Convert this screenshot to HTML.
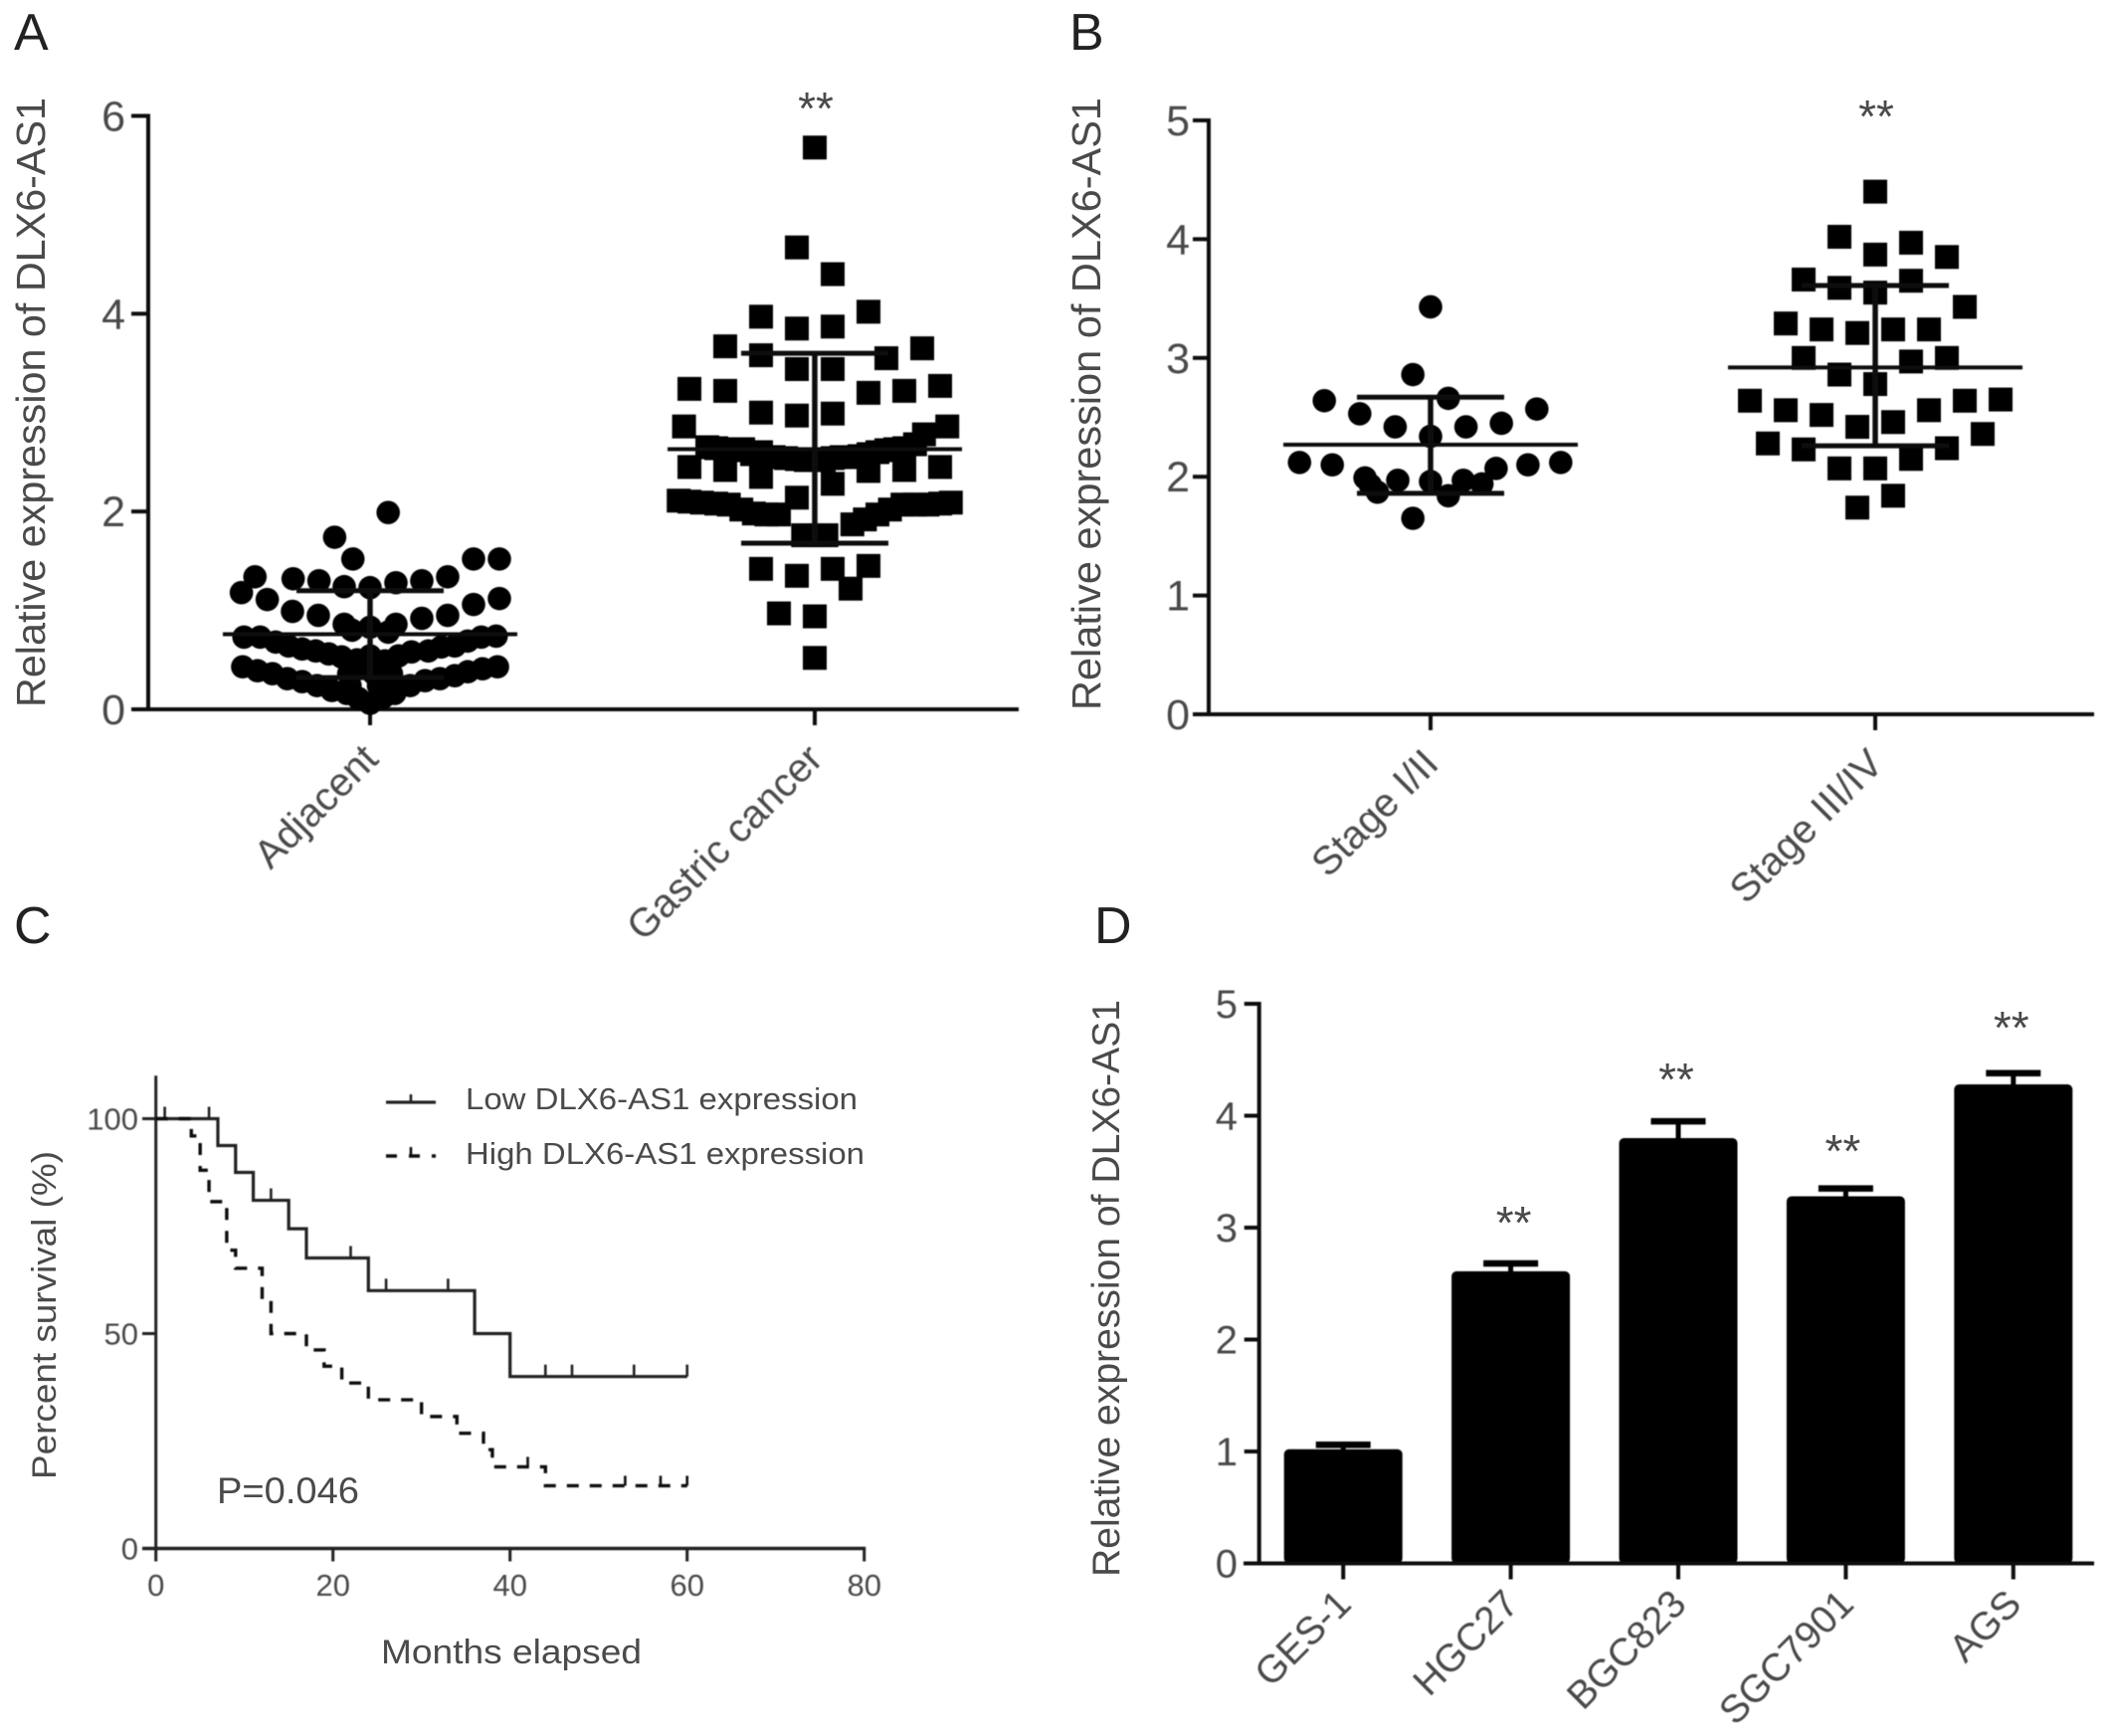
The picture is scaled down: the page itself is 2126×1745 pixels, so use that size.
<!DOCTYPE html>
<html lang="en">
<head>
<meta charset="utf-8">
<title>DLX6-AS1 expression figure</title>
<style>
html,body{margin:0;padding:0;background:#fff;width:2126px;height:1745px;overflow:hidden}
svg{display:block;position:absolute;left:0;top:0}
text{font-family:"Liberation Sans",Arial,sans-serif;fill:#4a4a4a}
.panel-letter{font-size:52px;fill:#222}
.axis-title{font-size:41px}
</style>
</head>
<body>
<svg id="figure" xmlns="http://www.w3.org/2000/svg" width="2126" height="1745" viewBox="0 0 2126 1745">
  <rect x="0" y="0" width="2126" height="1745" fill="#fff"/>
  <text class="panel-letter" x="14" y="50">A</text>
  <text class="panel-letter" x="1075" y="50">B</text>
  <text class="panel-letter" x="14" y="948">C</text>
  <text class="panel-letter" x="1100" y="948">D</text>

  <g id="panel-a" filter="url(#soft)"></g>
  <g id="panel-b" filter="url(#soft)"></g>
  <g id="panel-c" filter="url(#soft)"></g>
  <g id="panel-d" filter="url(#soft)"></g>

  <text class="axis-title" transform="translate(45,711) rotate(-90)" textLength="613" lengthAdjust="spacingAndGlyphs">Relative expression of DLX6-AS1</text>
  <text class="axis-title" transform="translate(1106,714) rotate(-90)" textLength="616" lengthAdjust="spacingAndGlyphs">Relative expression of DLX6-AS1</text>
  <text class="axis-title" style="font-size:39px" transform="translate(1125,1585) rotate(-90)" textLength="580" lengthAdjust="spacingAndGlyphs">Relative expression of DLX6-AS1</text>
  <text style="font-size:34px" transform="translate(56,1487) rotate(-90)" textLength="330" lengthAdjust="spacingAndGlyphs">Percent survival (%)</text>
  <text style="font-size:34px" x="383" y="1672" textLength="262" lengthAdjust="spacingAndGlyphs">Months elapsed</text>
  <text style="font-size:37px" x="218" y="1511" textLength="143" lengthAdjust="spacingAndGlyphs">P=0.046</text>
  <text style="font-size:31px" x="468" y="1115" textLength="394" lengthAdjust="spacingAndGlyphs">Low DLX6-AS1 expression</text>
  <text style="font-size:31px" x="468" y="1170" textLength="401" lengthAdjust="spacingAndGlyphs">High DLX6-AS1 expression</text>

  <defs>
    <filter id="soft" x="-5%" y="-5%" width="110%" height="110%"><feGaussianBlur stdDeviation="0.55"/></filter>
  </defs>
</svg>
<script>
// ---------- Panel A data ----------
const panelACategories = ['Adjacent', 'Gastric cancer'];
const panelATicks = [0, 2, 4, 6];
const adjacentSlots = [1.4,-2.74,-1.33,8,10,-8.9,-9.95,-7.95,-5.95,-3.95,-2,0,2,4,6,10,8,-6,-4,6,4,-2,2,0,1.4,-1.4,
  -9.75,-8.5,-7.3,-6.3,-5.25,-4.2,-3.2,-2.2,-1.15,9.75,8.6,7.55,6.55,5.5,4.5,3.2,2.2,1.15,
  -9.85,-8.7,-7.55,-6.4,-5.25,-4.1,-2.95,-1.8,-0.9,9.85,8.7,7.55,6.55,5.4,4.25,3.1,1.9,1,
  0,-0.65,0.65,-1.65,1.65,-1.55,0.65,0,0,0.3,-1,1];
const adjacentValues = [1.99,1.74,1.52,1.52,1.52,1.34,1.18,1.11,1.32,1.30,1.24,1.23,1.28,1.30,1.34,1.12,1.06,0.99,0.95,0.95,0.92,0.86,0.86,0.83,0.78,0.80,
  0.73,0.73,0.68,0.64,0.61,0.59,0.56,0.53,0.46,0.74,0.73,0.69,0.64,0.63,0.59,0.58,0.54,0.49,
  0.43,0.39,0.36,0.31,0.28,0.24,0.19,0.16,0.11,0.43,0.41,0.38,0.34,0.31,0.29,0.24,0.16,0.12,
  0.06,0.43,0.39,0.36,0.36,0.24,0.24,0.54,0.46,0.36,0.5,0.48];
const gastricSlots = [0,-1,1,3,-3,-1,1,-5,-3,-1,1,4,6,-7,-5,3,5,7,-3,-1,1,-7.3,7.4,6.1,
  -6,-5,-4,-3,-2.3,-1,0,1,2,3,4,5,-7,-5,-3,3,5,7,1,-1,
  -7.6,-6.3,-4.8,-3.4,-2,7.6,6.3,4.9,3.5,2.1,-0.65,0.65,0,-3,-1,1,3,2,-2,0,0,
  -5.5,-4.5,-3.5,-1.6,-0.5,0.5,1.5,2.5,3.5,4.5,5.6,-7,-5.5,-4.1,-2.7,7,5.6,4.2,2.8];
const gastricValues = [5.68,4.67,4.4,4.02,3.97,3.85,3.87,3.67,3.58,3.44,3.44,3.55,3.65,3.24,3.22,3.2,3.22,3.27,3.0,2.97,2.99,2.86,2.86,2.78,
  2.65,2.63,2.63,2.6,2.55,2.53,2.52,2.54,2.55,2.58,2.62,2.64,2.45,2.42,2.35,2.41,2.42,2.45,2.28,2.14,
  2.11,2.09,2.07,1.98,1.97,2.09,2.07,2.07,1.97,1.87,1.76,1.76,1.76,1.42,1.35,1.42,1.45,1.22,0.97,0.94,0.52,
  2.64,2.62,2.58,2.54,2.52,2.52,2.55,2.56,2.6,2.63,2.68,2.1,2.08,2.02,1.97,2.08,2.07,2.02,1.92];
const panelAMeans = [0.76, 2.63];
const panelAUpper = [1.2, 3.6];
const panelALower = [0.32, 1.68];

// ---------- Panel B data ----------
const panelBCategories = ['Stage I/II', 'Stage III/IV'];
const panelBTicks = [0, 1, 2, 3, 4, 5];
const earlySlots = [0,-1,-6,1,6,-4,4,-2,2,0,-7.4,-5.55,7.35,5.5,3.7,-3.7,-1.85,0,1.85,2.9,-3.4,-3,1,-1];
const earlyValues = [3.43,2.86,2.64,2.66,2.57,2.53,2.45,2.42,2.42,2.34,2.12,2.1,2.12,2.1,2.07,1.99,1.97,1.96,1.97,1.94,1.93,1.87,1.84,1.65];
const lateSlots = [0,-2,2,0,4,-4,-2,0,2,5,-5,-3,-1,1,3,-4,2,4,-2,0,-7,-5,-3,-1,1,3,5,7,-6,-4,4,6,-2,0,2,1,-1];
const lateValues = [4.40,4.02,3.97,3.87,3.85,3.66,3.59,3.55,3.65,3.43,3.29,3.24,3.21,3.24,3.24,3.0,2.97,3.0,2.86,2.78,2.64,2.56,2.52,2.42,2.46,2.56,2.64,2.65,2.28,2.23,2.24,2.36,2.07,2.07,2.15,1.84,1.74];
const panelBMeans = [2.27, 2.92];
const panelBUpper = [2.67, 3.61];
const panelBLower = [1.86, 2.26];

// ---------- Panel C data ----------
const survivalXTicks = [0, 20, 40, 60, 80];
const survivalYTicks = [0, 50, 100];
const lowMonths = [0,7,9,11,15,17,24,36,40,60];
const lowSurvival = [100,93.75,87.5,81,74.4,67.6,60,50,40,40];
const lowCensored = [1,6,13,22,26,33,44,47,54,60];
const highMonths = [0,4,5,6,8,9,12,13,17,19,21,24,30,34,37,38,44,60];
const highSurvival = [100,96,88,80.7,69.4,65.2,57.8,50,46.2,42.4,38.5,34.6,30.7,26.8,23,19,14.6,14.6];
const highCensored = [42,53,57,60];

// ---------- Panel D data ----------
const cellLines = ['GES-1','HGC27','BGC823','SGC7901','AGS'];
const cellMeans = [1.02,2.61,3.8,3.28,4.28];
const cellUpper = [1.06,2.68,3.95,3.35,4.38];
const cellStars = ['','**','**','**','**'];
const cellStarLevels = [0,3.09,4.37,3.73,4.83];
const panelDTicks = [0,1,2,3,4,5];

// ---------- helpers ----------
const SVGNS = 'http://www.w3.org/2000/svg';
function linear(d0, d1, r0, r1) { return v => r0 + (v - d0) * (r1 - r0) / (d1 - d0); }
function seg(parent, x1, y1, x2, y2, w, name, color) {
  const el = document.createElementNS(SVGNS, 'line');
  el.setAttribute('x1', x1); el.setAttribute('y1', y1);
  el.setAttribute('x2', x2); el.setAttribute('y2', y2);
  el.setAttribute('stroke', color || '#111');
  el.setAttribute('stroke-width', w);
  
  
  parent.appendChild(el);
  return el;
}
function label(parent, str, x, y, size, anchor, name, rotate) {
  const el = document.createElementNS(SVGNS, 'text');
  el.textContent = str;
  el.setAttribute('font-size', size);
  el.setAttribute('text-anchor', anchor);
  if (rotate) el.setAttribute('transform', 'translate(' + x + ',' + y + ') rotate(' + rotate + ')');
  else { el.setAttribute('x', x); el.setAttribute('y', y); }
  
  
  parent.appendChild(el);
  return el;
}
function circlePoint(parent, cx, cy, r, name) {
  const el = document.createElementNS(SVGNS, 'circle');
  el.setAttribute('cx', cx); el.setAttribute('cy', cy); el.setAttribute('r', r);
  el.setAttribute('fill', '#000');
  
  
  parent.appendChild(el);
}
function squarePoint(parent, cx, cy, s, name) {
  const el = document.createElementNS(SVGNS, 'rect');
  el.setAttribute('x', cx - s / 2); el.setAttribute('y', cy - s / 2);
  el.setAttribute('width', s); el.setAttribute('height', s);
  el.setAttribute('fill', '#000');
  
  
  parent.appendChild(el);
}
function stars(str, x, cy) {
  const el = label(document.getElementById('figure'), str, x, cy + 21, 46, 'middle', 'significance-stars');
  return el;
}

function drawScatter(cfg) {
  const g = document.getElementById(cfg.id);
  const y = linear(0, cfg.ymax, cfg.y0, cfg.yTop);
  seg(g, cfg.axisX, cfg.yTop - 2, cfg.axisX, cfg.y0 + 2, 4, 'y-axis-line');
  seg(g, cfg.axisLeft, cfg.y0, cfg.axisRight, cfg.y0, 4, 'x-axis-line');
  cfg.ticks.forEach(t => {
    seg(g, cfg.axisLeft, y(t), cfg.axisX, y(t), 4, 'y-axis-tick');
    label(g, String(t), cfg.labelRight, y(t) + 15, 43, 'end', 'y-tick-label');
  });
  cfg.centers.forEach((c, i) => {
    seg(g, c, cfg.y0, c, cfg.y0 + 16, 4, 'x-axis-tick');
    label(g, cfg.cats[i], c + cfg.catDx, cfg.y0 + 52, 40, 'end', 'x-category-label', -45);
  });
  cfg.circleSlots.forEach((s, i) => {
    circlePoint(g, cfg.centers[0] + s * cfg.circleStep, y(cfg.circleValues[i]), 11.8, 'circle-point');
  });
  cfg.squareSlots.forEach((s, i) => {
    squarePoint(g, cfg.centers[1] + s * 18, y(cfg.squareValues[i]), 24, 'square-point');
  });
  cfg.centers.forEach((c, i) => {
    seg(g, c - 148, y(cfg.means[i]), c + 148, y(cfg.means[i]), 4, 'mean-line');
    seg(g, c - 74, y(cfg.upper[i]), c + 74, y(cfg.upper[i]), 5, 'sd-upper-cap');
    seg(g, c - 74, y(cfg.lower[i]), c + 74, y(cfg.lower[i]), 5, 'sd-lower-cap');
    seg(g, c, y(cfg.upper[i]), c, y(cfg.lower[i]), 5.5, 'sd-stem');
  });
}

drawScatter({
  id: 'panel-a', ymax: 6, y0: 713, yTop: 116.5, axisX: 149, axisLeft: 132, axisRight: 1024, labelRight: 126,
  ticks: panelATicks, centers: [372, 819], cats: panelACategories, catDx: 10,
  circleSlots: adjacentSlots, circleValues: adjacentValues, circleStep: 13,
  squareSlots: gastricSlots, squareValues: gastricValues,
  means: panelAMeans, upper: panelAUpper, lower: panelALower
});
drawScatter({
  id: 'panel-b', ymax: 5, y0: 718, yTop: 121, axisX: 1215, axisLeft: 1199, axisRight: 2105, labelRight: 1196,
  ticks: panelBTicks, centers: [1438, 1885], cats: panelBCategories, catDx: 10,
  circleSlots: earlySlots, circleValues: earlyValues, circleStep: 17.8,
  squareSlots: lateSlots, squareValues: lateValues,
  means: panelBMeans, upper: panelBUpper, lower: panelBLower
});
stars('**', 820, 104);
stars('**', 1886, 112);

// ---------- Panel C ----------
(function () {
  const g = document.getElementById('panel-c');
  const x = linear(0, 80, 156.7, 868.7);
  const y = linear(0, 100, 1556.5, 1124.5);
  seg(g, x(0), y(110), x(0), y(0) + 2, 3, 'y-axis-line', '#222');
  seg(g, 143, y(0), x(80) + 1.5, y(0), 3.5, 'x-axis-line', '#222');
  survivalYTicks.forEach(t => {
    seg(g, 143, y(t), x(0), y(t), 3, 'y-axis-tick', '#222');
    label(g, String(t), 139, y(t) + 11, 31, 'end', 'y-tick-label');
  });
  survivalXTicks.forEach(t => {
    seg(g, x(t), y(0), x(t), y(0) + 13, 3, 'x-axis-tick', '#222');
    label(g, String(t), x(t), 1604, 31, 'middle', 'x-tick-label');
  });
  function stepPath(months, surv) {
    let d = 'M' + x(months[0]) + ' ' + y(surv[0]);
    for (let i = 1; i < months.length; i++) {
      d += 'L' + x(months[i]) + ' ' + y(surv[i - 1]) + 'L' + x(months[i]) + ' ' + y(surv[i]);
    }
    return d;
  }
  function survivalAt(months, surv, m) {
    let val = surv[0];
    for (let i = 0; i < months.length; i++) if (months[i] <= m) val = surv[i];
    return val;
  }
  const low = document.createElementNS(SVGNS, 'path');
  low.setAttribute('d', stepPath(lowMonths, lowSurvival));
  low.setAttribute('fill', 'none');
  low.setAttribute('stroke', '#222');
  low.setAttribute('stroke-width', 3.2);
  
  
  g.appendChild(low);
  lowCensored.forEach(m => {
    const v = survivalAt(lowMonths, lowSurvival, m);
    seg(g, x(m), y(v), x(m), y(v) - 12, 2.6, 'low-censor-tick', '#222');
  });
  const high = document.createElementNS(SVGNS, 'path');
  high.setAttribute('d', stepPath(highMonths, highSurvival));
  high.setAttribute('fill', 'none');
  high.setAttribute('stroke', '#111');
  high.setAttribute('stroke-width', 3.4);
  high.setAttribute('stroke-dasharray', '12 11');
  
  
  g.appendChild(high);
  highCensored.forEach(m => {
    const v = survivalAt(highMonths, highSurvival, m);
    seg(g, x(m), y(v), x(m), y(v) - 10, 2.6, 'high-censor-tick', '#111');
  });
  // legend samples
  seg(g, 388, 1108, 438, 1108, 3.2, 'legend-low-line', '#222');
  seg(g, 413, 1108, 413, 1100, 2.6, 'legend-low-tick', '#222');
  const ld = seg(g, 388, 1162, 438, 1162, 3.4, 'legend-high-line', '#111');
  ld.setAttribute('stroke-dasharray', '11 12');
  seg(g, 413, 1162, 413, 1153, 2.6, 'legend-high-tick', '#111');
})();

// ---------- Panel D ----------
(function () {
  const g = document.getElementById('panel-d');
  const y = linear(0, 5, 1571.5, 1009);
  const x = linear(0, 4, 1350.2, 2023.8);
  const starShift = [0, 3, -2, -3, -2];
  const barW = 119;
  cellLines.forEach((name, i) => {
    const cx = x(i);
    seg(g, cx, y(cellUpper[i]), cx, y(cellMeans[i]) + 4, 5, 'error-stem', '#000');
    seg(g, cx - 27.5, y(cellUpper[i]), cx + 27.5, y(cellUpper[i]), 6.5, 'error-cap', '#000');
    const bar = document.createElementNS(SVGNS, 'rect');
    bar.setAttribute('x', cx - barW / 2);
    bar.setAttribute('y', y(cellMeans[i]));
    bar.setAttribute('width', barW);
    bar.setAttribute('height', y(0) - y(cellMeans[i]));
    bar.setAttribute('rx', 5);
    bar.setAttribute('fill', '#000');
    
    
    g.appendChild(bar);
    seg(g, cx, y(0), cx, y(0) + 16, 4, 'x-axis-tick');
    label(g, name, cx + 10, y(0) + 43, 39, 'end', 'x-category-label', -45);
    if (cellStars[i]) stars(cellStars[i], cx + starShift[i], y(cellStarLevels[i]));
  });
  seg(g, 1265.7, y(5) - 2, 1265.7, y(0) + 2, 4, 'y-axis-line');
  seg(g, 1250, y(0), 2105, y(0), 4, 'x-axis-line');
  panelDTicks.forEach(t => {
    seg(g, 1250.7, y(t), 1265.7, y(t), 4, 'y-axis-tick');
    label(g, String(t), 1244, y(t) + 14, 40, 'end', 'y-tick-label');
  });
})();
</script>
</body>
</html>
